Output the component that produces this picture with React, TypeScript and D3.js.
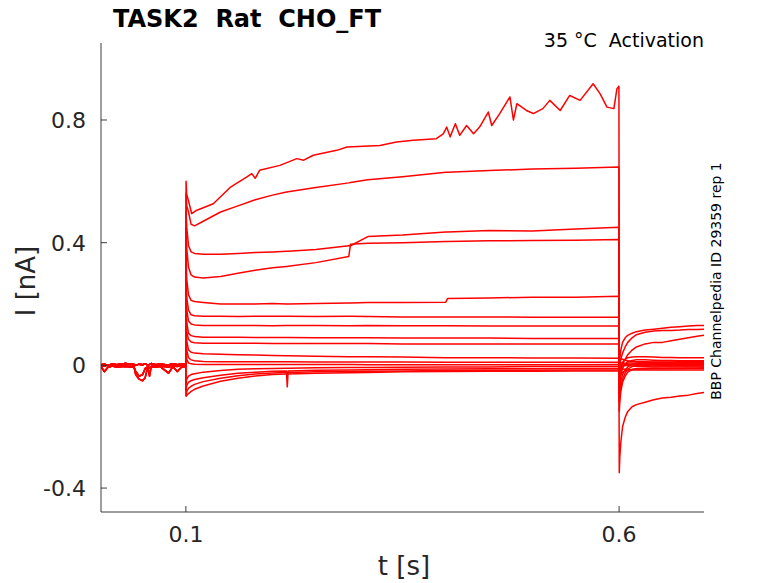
import * as d3 from "d3";

// time grids (s)
const preT = [0.002, 0.006, 0.01, 0.015, 0.02, 0.03, 0.04, 0.042, 0.046, 0.05, 0.053, 0.056, 0.058, 0.06, 0.065, 0.07, 0.08, 0.085, 0.09, 0.095, 0.0998];
const stepT = [0.1002, 0.101, 0.103, 0.106, 0.11, 0.12, 0.14, 0.16, 0.18, 0.2, 0.216, 0.217, 0.218, 0.25, 0.288, 0.29, 0.31, 0.35, 0.4, 0.402, 0.45, 0.5, 0.55, 0.5998];
const tailT = [0.6002, 0.6008, 0.602, 0.604, 0.607, 0.61, 0.615, 0.62, 0.63, 0.64, 0.65, 0.66, 0.67, 0.68, 0.69, 0.698];

// holding baseline before the step (nA)
const baseQuiet = [0.002, 0.004, 0.0, 0.005, 0.002, 0.006, 0.003, 0.0, 0.004, 0.002, 0.005, 0.001, 0.003, 0.006, 0.002, 0.004, 0.001, 0.005, 0.002, 0.004, 0.003];
const baseDip = [0.0, -0.003, 0.002, -0.002, 0.001, -0.004, -0.002, -0.03, -0.045, -0.05, -0.04, -0.004, -0.035, -0.003, 0.0, -0.002, -0.006, -0.001, -0.004, 0.0, -0.002];
const baseSmall = [-0.004, -0.02, -0.006, -0.002, -0.005, -0.003, -0.006, -0.02, -0.035, -0.03, -0.01, -0.005, -0.008, -0.004, -0.006, -0.003, -0.025, -0.004, -0.02, -0.005, -0.004];

// largest sweep, read on its own time points
const stepTA = [0.1002, 0.1008, 0.1067, 0.112, 0.1316, 0.151, 0.17, 0.176, 0.18, 0.185, 0.2085, 0.228, 0.236, 0.247, 0.274, 0.286, 0.324, 0.343, 0.3625, 0.389, 0.397, 0.401, 0.405, 0.411, 0.416, 0.424, 0.432, 0.439, 0.449, 0.453, 0.462, 0.474, 0.478, 0.482, 0.493, 0.501, 0.512, 0.52, 0.532, 0.543, 0.555, 0.57, 0.578, 0.586, 0.594, 0.5975, 0.5998];
const stepA = [0.6, 0.56, 0.495, 0.505, 0.527, 0.58, 0.614, 0.625, 0.61, 0.636, 0.652, 0.674, 0.669, 0.685, 0.701, 0.712, 0.717, 0.728, 0.734, 0.739, 0.755, 0.777, 0.745, 0.788, 0.75, 0.782, 0.755, 0.777, 0.826, 0.782, 0.82, 0.875, 0.8, 0.853, 0.831, 0.821, 0.837, 0.864, 0.831, 0.88, 0.864, 0.918, 0.886, 0.842, 0.837, 0.902, 0.91];

// step currents on stepT (nA)
const stepB = [0.56, 0.52, 0.5, 0.46, 0.455, 0.47, 0.5, 0.52, 0.54, 0.555, 0.565, 0.565, 0.566, 0.58, 0.595, 0.596, 0.605, 0.615, 0.63, 0.63, 0.635, 0.64, 0.643, 0.647];
const stepC = [0.5, 0.45, 0.39, 0.37, 0.365, 0.362, 0.362, 0.365, 0.368, 0.37, 0.372, 0.372, 0.372, 0.378, 0.39, 0.39, 0.42, 0.425, 0.435, 0.435, 0.44, 0.438, 0.445, 0.45];
const stepD = [0.45, 0.38, 0.32, 0.295, 0.288, 0.285, 0.29, 0.3, 0.31, 0.318, 0.322, 0.322, 0.323, 0.335, 0.355, 0.395, 0.398, 0.4, 0.404, 0.404, 0.406, 0.407, 0.408, 0.41];
const stepE = [0.35, 0.28, 0.23, 0.212, 0.208, 0.205, 0.2, 0.2, 0.2, 0.202, 0.2, 0.2, 0.2, 0.202, 0.203, 0.203, 0.205, 0.205, 0.206, 0.218, 0.22, 0.222, 0.222, 0.225];
const stepF = [0.3, 0.22, 0.18, 0.165, 0.162, 0.16, 0.16, 0.159, 0.16, 0.16, 0.16, 0.16, 0.16, 0.159, 0.16, 0.16, 0.159, 0.158, 0.158, 0.158, 0.158, 0.157, 0.157, 0.157];
const stepG = [0.25, 0.18, 0.145, 0.135, 0.132, 0.13, 0.13, 0.13, 0.13, 0.129, 0.13, 0.13, 0.13, 0.13, 0.129, 0.129, 0.13, 0.129, 0.129, 0.129, 0.128, 0.128, 0.128, 0.128];
const stepH = [0.2, 0.14, 0.105, 0.097, 0.094, 0.092, 0.092, 0.092, 0.091, 0.091, 0.091, 0.091, 0.091, 0.09, 0.09, 0.09, 0.09, 0.089, 0.089, 0.089, 0.089, 0.088, 0.088, 0.088];
const stepI = [0.16, 0.11, 0.085, 0.076, 0.074, 0.072, 0.072, 0.072, 0.072, 0.071, 0.071, 0.071, 0.071, 0.071, 0.071, 0.071, 0.071, 0.07, 0.07, 0.07, 0.07, 0.07, 0.07, 0.07];
const stepJ = [0.12, 0.08, 0.05, 0.043, 0.04, 0.038, 0.036, 0.035, 0.034, 0.032, 0.031, 0.031, 0.031, 0.03, 0.028, 0.028, 0.028, 0.027, 0.025, 0.025, 0.025, 0.024, 0.024, 0.023];
const stepK = [0.08, 0.05, 0.025, 0.018, 0.015, 0.013, 0.012, 0.012, 0.012, 0.012, 0.012, 0.012, 0.012, 0.011, 0.011, 0.011, 0.011, 0.011, 0.01, 0.01, 0.01, 0.01, 0.01, 0.01];
const stepL = [0.04, 0.02, 0.008, 0.005, 0.004, 0.003, 0.003, 0.003, 0.003, 0.003, 0.003, 0.003, 0.003, 0.003, 0.003, 0.003, 0.002, 0.002, 0.002, 0.002, 0.002, 0.002, 0.002, 0.003];
const stepM = [-0.06, -0.045, -0.035, -0.03, -0.027, -0.022, -0.017, -0.013, -0.011, -0.01, -0.009, -0.009, -0.009, -0.008, -0.007, -0.007, -0.007, -0.006, -0.005, -0.005, -0.005, -0.004, -0.004, -0.004];
const stepN = [-0.08, -0.065, -0.055, -0.05, -0.046, -0.04, -0.032, -0.026, -0.022, -0.019, -0.018, -0.07, -0.018, -0.016, -0.015, -0.015, -0.014, -0.013, -0.012, -0.012, -0.011, -0.011, -0.01, -0.01];
const stepO = [-0.1, -0.085, -0.075, -0.068, -0.062, -0.053, -0.042, -0.034, -0.028, -0.025, -0.023, -0.023, -0.023, -0.021, -0.02, -0.02, -0.019, -0.018, -0.017, -0.017, -0.016, -0.016, -0.015, -0.015];
const stepP = [-0.1, -0.098, -0.092, -0.085, -0.078, -0.067, -0.052, -0.042, -0.035, -0.03, -0.028, -0.028, -0.028, -0.026, -0.024, -0.024, -0.023, -0.021, -0.02, -0.02, -0.019, -0.019, -0.018, -0.018];

// tail currents on tailT (nA)
const tailA = [0.0, 0.02, 0.05, 0.075, 0.09, 0.098, 0.105, 0.11, 0.115, 0.118, 0.121, 0.124, 0.126, 0.128, 0.13, 0.13];
const tailB = [-0.02, 0.0, 0.02, 0.04, 0.06, 0.075, 0.09, 0.1, 0.108, 0.112, 0.114, 0.114, 0.115, 0.117, 0.117, 0.118];
const tailC = [-0.04, -0.03, -0.01, 0.005, 0.02, 0.035, 0.05, 0.06, 0.07, 0.075, 0.075, 0.08, 0.085, 0.09, 0.095, 0.098];
const tailD = [-0.06, -0.04, -0.01, 0.01, 0.02, 0.025, 0.027, 0.028, 0.028, 0.027, 0.026, 0.026, 0.025, 0.025, 0.025, 0.025];
const tailE = [-0.08, -0.06, -0.03, -0.01, 0.005, 0.012, 0.016, 0.018, 0.018, 0.017, 0.016, 0.016, 0.015, 0.015, 0.015, 0.015];
const tailF = [-0.1, -0.08, -0.05, -0.03, -0.015, -0.005, 0.003, 0.008, 0.01, 0.01, 0.01, 0.01, 0.01, 0.01, 0.01, 0.01];
const tailG = [-0.05, -0.03, -0.01, 0.0, 0.005, 0.008, 0.008, 0.007, 0.006, 0.006, 0.005, 0.005, 0.005, 0.005, 0.005, 0.005];
const tailH = [-0.12, -0.1, -0.07, -0.045, -0.025, -0.012, -0.004, 0.0, 0.001, 0.001, 0.0, 0.0, 0.0, 0.0, 0.0, 0.0];
const tailI = [-0.03, -0.02, -0.008, -0.002, 0.0, 0.0, -0.002, -0.003, -0.004, -0.005, -0.005, -0.005, -0.005, -0.005, -0.005, -0.005];
const tailJ = [-0.15, -0.12, -0.085, -0.055, -0.035, -0.022, -0.014, -0.01, -0.009, -0.009, -0.01, -0.01, -0.01, -0.01, -0.01, -0.01];
const tailK = [-0.02, -0.015, -0.012, -0.012, -0.013, -0.014, -0.015, -0.015, -0.015, -0.015, -0.015, -0.015, -0.015, -0.015, -0.015, -0.015];
const tailL = [-0.35, -0.3, -0.25, -0.2, -0.17, -0.15, -0.135, -0.128, -0.12, -0.112, -0.106, -0.104, -0.1, -0.097, -0.092, -0.088];
const tailM = [0.01, 0.02, 0.022, 0.02, 0.017, 0.015, 0.013, 0.012, 0.012, 0.011, 0.011, 0.011, 0.012, 0.012, 0.012, 0.012];
const tailN = [0.0, 0.005, 0.008, 0.008, 0.006, 0.004, 0.003, 0.003, 0.002, 0.002, 0.002, 0.002, 0.002, 0.002, 0.002, 0.002];
const tailO = [-0.03, -0.01, 0.0, 0.005, 0.005, 0.004, 0.002, 0.0, -0.001, -0.002, -0.002, -0.002, -0.002, -0.002, -0.002, -0.002];
const tailP = [-0.05, -0.04, -0.03, -0.022, -0.018, -0.015, -0.013, -0.012, -0.012, -0.011, -0.011, -0.01, -0.01, -0.009, -0.009, -0.008];

const xTicks = [0.1, 0.6];
const yTicks = [-0.4, 0, 0.4, 0.8];

const W = 778;
const H = 583;
const m = { left: 101, right: 704, top: 43, bottom: 512 };
const ink = "#262626";
const font = "DejaVu Sans, sans-serif";

const zip = (ts: number[], vs: number[]) => ts.map((t, i) => [t, vs[i]] as [number, number]);

const sweeps: [number[], number[], number[], number[]][] = [
  [baseQuiet, stepTA, stepA, tailA],
  [baseDip, stepT, stepB, tailB],
  [baseSmall, stepT, stepC, tailC],
  [baseQuiet, stepT, stepD, tailD],
  [baseDip, stepT, stepE, tailE],
  [baseSmall, stepT, stepF, tailF],
  [baseQuiet, stepT, stepG, tailG],
  [baseSmall, stepT, stepH, tailH],
  [baseQuiet, stepT, stepI, tailI],
  [baseDip, stepT, stepJ, tailJ],
  [baseQuiet, stepT, stepK, tailK],
  [baseSmall, stepT, stepL, tailL],
  [baseQuiet, stepT, stepM, tailM],
  [baseQuiet, stepT, stepN, tailN],
  [baseSmall, stepT, stepO, tailO],
  [baseQuiet, stepT, stepP, tailP],
];

export default function App() {
  const x = d3.scaleLinear().domain([0.002, 0.698]).range([m.left, m.right]);
  const y = d3.scaleLinear().domain([-0.478, 1.051]).range([m.bottom, m.top]);

  const line = d3
    .line<[number, number]>()
    .x((d) => x(d[0]))
    .y((d) => y(d[1]));

  const paths = sweeps.map(([base, st, sv, tail]) =>
    line([...zip(preT, base), ...zip(st, sv), ...zip(tailT, tail)])
  );

  return (
    <svg
      width={W}
      height={H}
      style={{ position: "absolute", left: 0, top: 0, background: "#fff" }}
      fontFamily={font}
    >
      <defs>
        <clipPath id="plot">
          <rect x={m.left} y={m.top} width={m.right - m.left} height={m.bottom - m.top} />
        </clipPath>
      </defs>

      <g clipPath="url(#plot)">
        {paths.map((d, i) => (
          <path key={i} d={d ?? ""} fill="none" stroke="#ff0000" strokeWidth={1.5} strokeLinejoin="round" />
        ))}
      </g>

      {/* axes */}
      <g stroke={ink} strokeWidth={0.9} fill="none">
        <line x1={m.left} x2={m.left} y1={m.top} y2={m.bottom} />
        <line x1={m.left} x2={m.right} y1={m.bottom} y2={m.bottom} />
        {yTicks.map((t) => (
          <line key={t} x1={m.left} x2={m.left + 6} y1={y(t)} y2={y(t)} />
        ))}
        {xTicks.map((t) => (
          <line key={t} x1={x(t)} x2={x(t)} y1={m.bottom} y2={m.bottom - 6} />
        ))}
      </g>

      <g fill={ink} fontSize={22}>
        {yTicks.map((t) => (
          <text key={t} x={m.left - 15} y={y(t) + 8} textAnchor="end">
            {String(t)}
          </text>
        ))}
        {xTicks.map((t) => (
          <text key={t} x={x(t)} y={542} textAnchor="middle">
            {String(t)}
          </text>
        ))}
      </g>

      <text x={404} y={575} textAnchor="middle" fontSize={26} fill={ink}>
        t [s]
      </text>
      <text
        transform="translate(35,281) rotate(-90)"
        textAnchor="middle"
        fontSize={26}
        fill={ink}
      >
        I [nA]
      </text>

      <text x={113} y={27} fontSize={24} fontWeight="bold" fill="#000" style={{ whiteSpace: "pre" }}>
        {"TASK2  Rat  CHO_FT"}
      </text>
      <text x={704} y={47} textAnchor="end" fontSize={19} fill="#000" style={{ whiteSpace: "pre" }}>
        {"35 °C  Activation"}
      </text>
      <text
        transform="translate(721,281) rotate(-90)"
        textAnchor="middle"
        fontSize={14}
        fill="#000"
      >
        BBP Channelpedia ID 29359 rep 1
      </text>
    </svg>
  );
}
